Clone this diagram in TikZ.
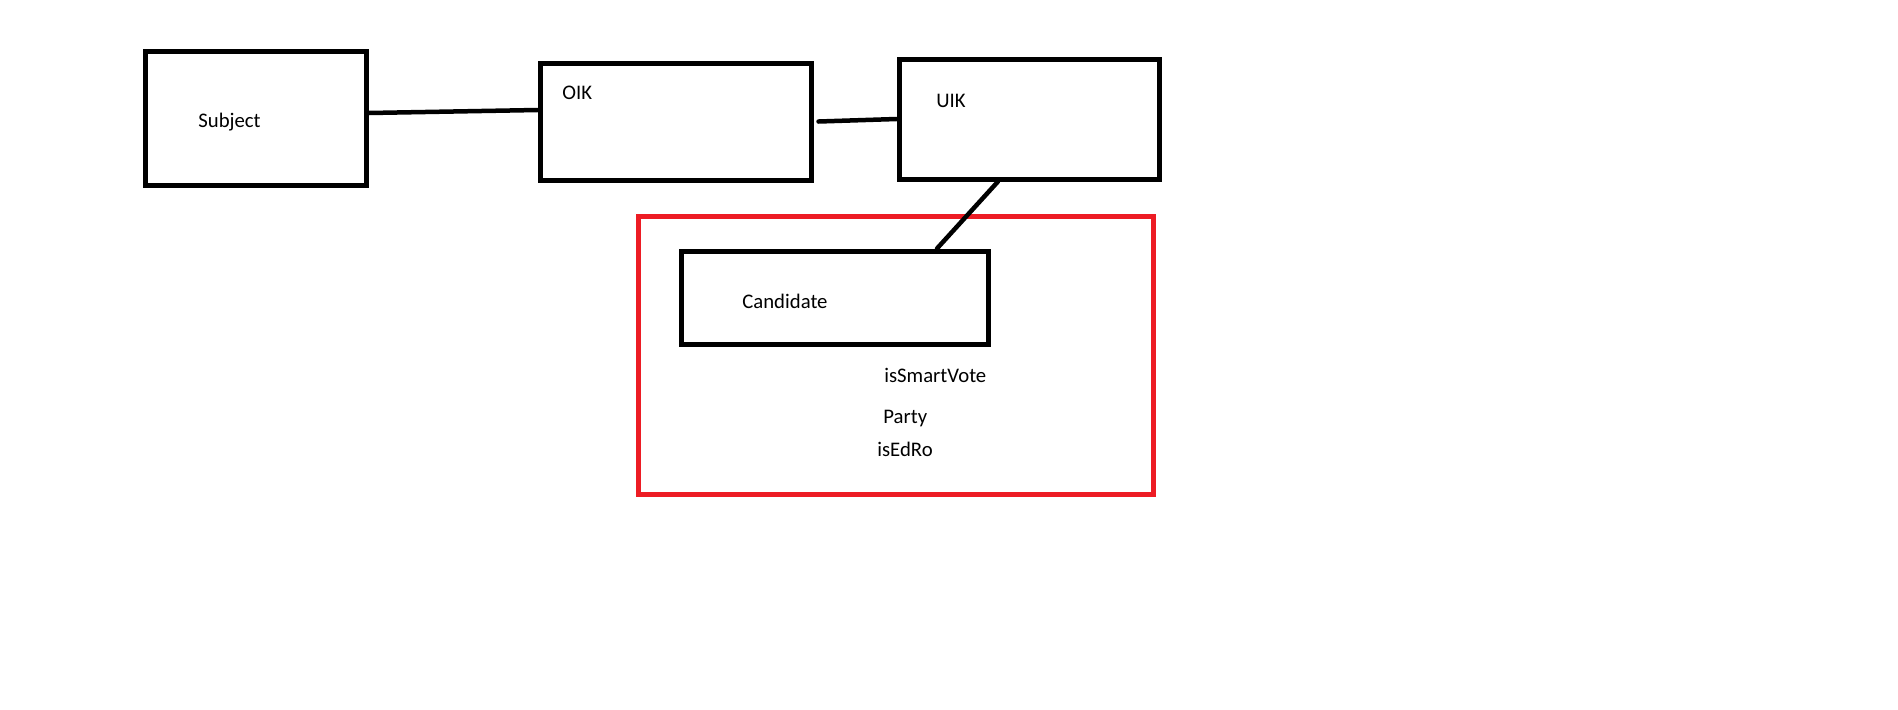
\documentclass[tikz,border=0pt]{standalone}
\definecolor{paintred}{RGB}{237, 28, 36}
\usepackage{fontspec}
\setmainfont{Carlito}
\usepackage{tikz}
\usetikzlibrary{positioning, calc}

\begin{document}
\begin{tikzpicture}[x=0.2mm, y=-0.2mm,
  ent/.style={draw, line width=1mm, inner sep=0pt},
  lbl/.style={anchor=base west, inner sep=0pt, font=\fontsize{11.8}{14}\selectfont},
  conn/.style={line width=0.9mm, line cap=round},
]
\useasboundingbox (0,0) rectangle (1898,709);

% Top row
\node[ent, minimum width=4.42cm, minimum height=2.68cm] (subj) at (255.5,118) {};
\node[ent, minimum width=5.42cm, minimum height=2.34cm] (oik) at (675.5,121.5) {};
\node[ent, minimum width=5.2cm, minimum height=2.4cm] (uik) at (1029,119) {};
\node[lbl] (subjtxt) at (198,127) {Subject};
\node[lbl] (oiktxt) at (562,99) {OIK};
\node[lbl] (uiktxt) at (936,107) {UIK};

% Candidate group in red frame
\node[draw=paintred, line width=1mm, inner sep=0pt, minimum width=10.31cm,
      minimum height=5.55cm] (grp) at (895.75,355.25) {};
\node[ent, minimum width=6.14cm, minimum height=1.86cm] (cand) at (834.5,297.5) {};
\node[lbl] (candtxt) at (742,308) {Candidate};
\node[lbl] (smart) at (884,382) {isSmartVote};
\node[lbl] (party) at (883,423) {Party};
\node[lbl] (edro) at (877,456) {isEdRo};

\draw[conn] ([yshift=1mm]subj.east) -- ([yshift=2.3mm]oik.west);
\draw[conn] ([xshift=1mm]oik.east) -- (uik.west);
\draw[conn] ([xshift=-6.2mm]uik.south) -- ([xshift=20.5mm]cand.north);
\end{tikzpicture}
\end{document}
